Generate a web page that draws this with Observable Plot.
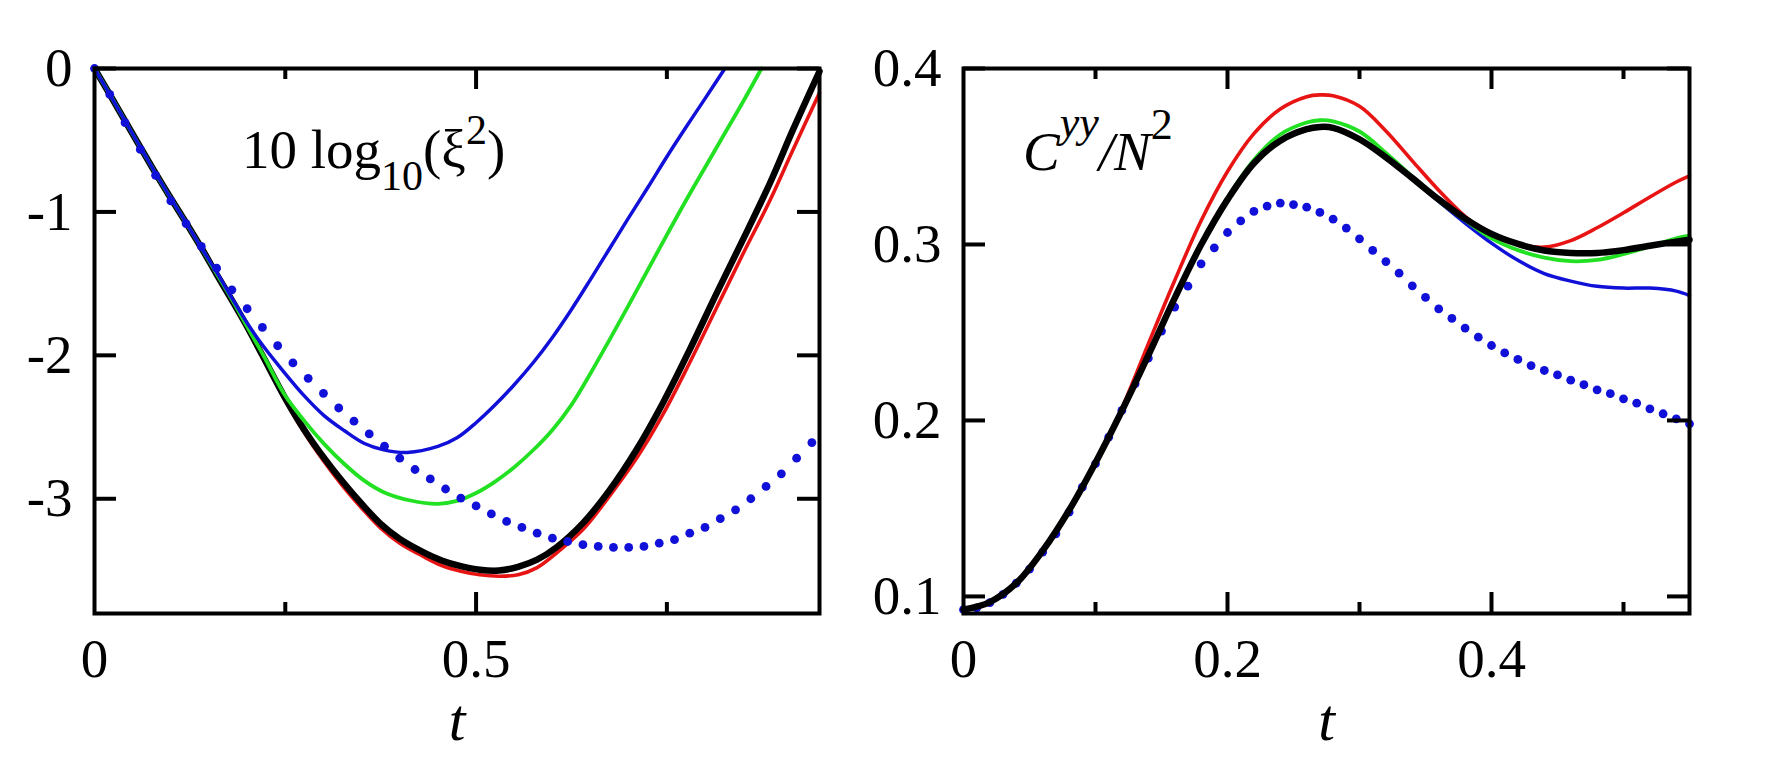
<!DOCTYPE html>
<html><head><meta charset="utf-8">
<script src="https://cdn.jsdelivr.net/npm/d3@7"></script>
<script src="https://cdn.jsdelivr.net/npm/@observablehq/plot@0.6"></script>
<style>
html,body{margin:0;padding:0;background:#fff;}
#wrap{display:flex;width:1780px;height:764px;overflow:hidden;background:#fff;}
svg{display:block;}
</style></head><body><div id="wrap"></div>
<script>
// ---------- LEFT PANEL: 10 log10(xi^2) vs t ----------
const leftXTickLabels = [0, 0.5];
const leftXMajor = [0.5];
const leftXMinor = [0.25, 0.75];
const leftYTicks = [0, -1, -2, -3];

const leftEarlyT = [0, 0.02, 0.04, 0.06, 0.08, 0.1, 0.12, 0.14];
const leftEarlyV = [0, -0.18, -0.365, -0.548, -0.73, -0.905, -1.075, -1.25];

const leftBlueT = [0.16, 0.18, 0.2, 0.2223, 0.2485, 0.2746, 0.3008, 0.327, 0.353, 0.379, 0.41, 0.45, 0.475, 0.5, 0.525, 0.55, 0.575, 0.6, 0.625, 0.65, 0.675, 0.7, 0.725, 0.75, 0.775, 0.8, 0.826];
const leftBlueV = [-1.42, -1.6, -1.775, -1.944, -2.118, -2.281, -2.42, -2.524, -2.613, -2.659, -2.677, -2.635, -2.575, -2.47, -2.345, -2.205, -2.05, -1.875, -1.68, -1.47, -1.255, -1.04, -0.83, -0.615, -0.41, -0.21, 0];

const leftGreenT = [0.16, 0.18, 0.2, 0.2223, 0.2485, 0.2746, 0.3008, 0.327, 0.353, 0.379, 0.414, 0.45, 0.475, 0.5, 0.525, 0.55, 0.575, 0.6, 0.625, 0.65, 0.675, 0.7, 0.725, 0.75, 0.775, 0.8, 0.825, 0.85, 0.874];
const leftGreenV = [-1.43, -1.61, -1.8, -2.01, -2.27, -2.455, -2.617, -2.756, -2.872, -2.954, -3.012, -3.035, -3.015, -2.96, -2.88, -2.78, -2.66, -2.52, -2.345, -2.125, -1.89, -1.65, -1.405, -1.16, -0.92, -0.69, -0.46, -0.23, 0];

const leftBlackT = [0.16, 0.18, 0.2, 0.22, 0.25, 0.275, 0.3, 0.325, 0.35, 0.375, 0.4, 0.43, 0.455, 0.48, 0.505, 0.53, 0.555, 0.58, 0.605, 0.64, 0.675, 0.71, 0.745, 0.78, 0.815, 0.85, 0.885, 0.915, 0.95];
const leftBlackV = [-1.435, -1.615, -1.8, -2.0, -2.3, -2.52, -2.71, -2.88, -3.035, -3.175, -3.28, -3.37, -3.43, -3.47, -3.495, -3.5, -3.475, -3.425, -3.34, -3.17, -2.94, -2.66, -2.33, -1.96, -1.57, -1.19, -0.8, -0.43, -0.02];

const leftRedT = [0.16, 0.18, 0.2, 0.22, 0.25, 0.275, 0.3, 0.325, 0.35, 0.375, 0.4, 0.43, 0.455, 0.48, 0.505, 0.53, 0.555, 0.58, 0.605, 0.64, 0.675, 0.71, 0.745, 0.78, 0.815, 0.85, 0.885, 0.915, 0.95];
const leftRedV = [-1.44, -1.62, -1.81, -2.01, -2.315, -2.54, -2.735, -2.91, -3.065, -3.205, -3.31, -3.4, -3.465, -3.505, -3.53, -3.54, -3.53, -3.48, -3.38, -3.215, -2.98, -2.72, -2.41, -2.05, -1.67, -1.29, -0.92, -0.57, -0.17];

const leftDotT = [0, 0.02, 0.04, 0.06, 0.08, 0.1, 0.12, 0.14, 0.16, 0.18, 0.2, 0.22, 0.24, 0.26, 0.28, 0.3, 0.32, 0.34, 0.36, 0.38, 0.4, 0.42, 0.44, 0.46, 0.48, 0.5, 0.52, 0.54, 0.56, 0.58, 0.6, 0.62, 0.64, 0.66, 0.68, 0.7, 0.72, 0.74, 0.76, 0.78, 0.8, 0.82, 0.84, 0.86, 0.88, 0.9, 0.92, 0.94];
const leftDotV = [0, -0.181, -0.378, -0.564, -0.745, -0.923, -1.081, -1.241, -1.392, -1.543, -1.675, -1.805, -1.933, -2.053, -2.16, -2.265, -2.367, -2.459, -2.548, -2.633, -2.717, -2.796, -2.862, -2.932, -2.995, -3.05, -3.106, -3.158, -3.2, -3.24, -3.275, -3.298, -3.32, -3.332, -3.339, -3.339, -3.332, -3.31, -3.285, -3.24, -3.2, -3.139, -3.077, -3.0, -2.914, -2.826, -2.717, -2.608];

// ---------- RIGHT PANEL: C^yy / N^2 vs t ----------
const rightXTickLabels = [0, 0.2, 0.4];
const rightXMajor = [0.2, 0.4];
const rightXMinor = [0.1, 0.3, 0.5];
const rightYTicks = [0.1, 0.2, 0.3, 0.4];

const rightEarlyT = [0, 0.02, 0.04, 0.06, 0.08, 0.1];
const rightEarlyV = [0.0925, 0.0968, 0.1075, 0.126, 0.149, 0.176];

const rightBlackT = [0.12, 0.14, 0.16, 0.18, 0.2, 0.22, 0.24, 0.26, 0.27, 0.28, 0.3, 0.32, 0.34, 0.36, 0.38, 0.4, 0.42, 0.44, 0.46, 0.48, 0.5, 0.52, 0.54, 0.55];
const rightBlackV = [0.2055, 0.237, 0.2695, 0.2998, 0.3255, 0.3462, 0.359, 0.3655, 0.3668, 0.3663, 0.3598, 0.3495, 0.3377, 0.3256, 0.3147, 0.306, 0.3003, 0.2966, 0.2952, 0.2952, 0.2968, 0.2993, 0.3016, 0.3027];

const rightRedT = [0.12, 0.14, 0.16, 0.18, 0.2, 0.22, 0.24, 0.26, 0.27, 0.28, 0.3, 0.32, 0.34, 0.36, 0.38, 0.4, 0.42, 0.44, 0.46, 0.48, 0.5, 0.52, 0.54, 0.55];
const rightRedV = [0.207, 0.2435, 0.2795, 0.3135, 0.3415, 0.363, 0.377, 0.384, 0.385, 0.3845, 0.3785, 0.3645, 0.3475, 0.3308, 0.316, 0.3055, 0.3003, 0.2985, 0.3022, 0.3095, 0.318, 0.327, 0.3355, 0.339];

const rightGreenT = [0.12, 0.14, 0.16, 0.18, 0.2, 0.22, 0.24, 0.26, 0.27, 0.28, 0.3, 0.32, 0.34, 0.36, 0.38, 0.4, 0.42, 0.44, 0.46, 0.48, 0.5, 0.52, 0.54, 0.55];
const rightGreenV = [0.2055, 0.237, 0.2695, 0.3002, 0.3265, 0.348, 0.3625, 0.3693, 0.3706, 0.37, 0.3642, 0.352, 0.3385, 0.3248, 0.3138, 0.3035, 0.2968, 0.2925, 0.2905, 0.2912, 0.2945, 0.2988, 0.3035, 0.305];

const rightBlueT = [0.12, 0.14, 0.16, 0.18, 0.2, 0.22, 0.24, 0.26, 0.27, 0.28, 0.3, 0.32, 0.34, 0.36, 0.38, 0.4, 0.42, 0.44, 0.46, 0.48, 0.5, 0.52, 0.54, 0.55];
const rightBlueV = [0.2055, 0.237, 0.2695, 0.2995, 0.3252, 0.3458, 0.3585, 0.365, 0.3663, 0.3658, 0.3594, 0.349, 0.337, 0.3245, 0.3122, 0.3008, 0.291, 0.2835, 0.2792, 0.2762, 0.2752, 0.2752, 0.2735, 0.271];

const rightDotT = [0, 0.01, 0.02, 0.03, 0.04, 0.05, 0.06, 0.07, 0.08, 0.09, 0.1, 0.11, 0.12, 0.13, 0.14, 0.15, 0.16, 0.17, 0.18, 0.19, 0.2, 0.21, 0.22, 0.23, 0.24, 0.25, 0.26, 0.27, 0.28, 0.29, 0.3, 0.31, 0.32, 0.33, 0.34, 0.35, 0.36, 0.37, 0.38, 0.39, 0.4, 0.41, 0.42, 0.43, 0.44, 0.45, 0.46, 0.47, 0.48, 0.49, 0.5, 0.51, 0.52, 0.53, 0.54, 0.55];
const rightDotV = [0.0925, 0.0935, 0.0965, 0.1012, 0.1075, 0.1155, 0.1252, 0.1356, 0.1479, 0.1621, 0.1754, 0.1905, 0.2057, 0.2208, 0.2354, 0.2508, 0.2644, 0.2763, 0.289, 0.2981, 0.3068, 0.3134, 0.3188, 0.3218, 0.3235, 0.3227, 0.3212, 0.3182, 0.3144, 0.3093, 0.3032, 0.2966, 0.2903, 0.2837, 0.2765, 0.2699, 0.2634, 0.258, 0.2525, 0.2473, 0.2426, 0.2384, 0.2347, 0.2312, 0.2284, 0.2259, 0.2229, 0.2203, 0.2174, 0.2152, 0.2123, 0.2098, 0.2066, 0.2038, 0.2009, 0.1981];

// ---------- helpers ----------
const RED = "#e81414", GREEN = "#22e022", BLUE = "#1010d8", BLACK = "#000";
const FONT = "'Liberation Serif','Times New Roman',serif";
const W = 890, H = 764, MT = 68, MB = 151;

function zipSeries(t, v) { return t.map((x, i) => ({t: x, v: v[i]})); }
function withEarly(et, ev, t, v) { return zipSeries(et.concat(t), ev.concat(v)); }

function panel(cfg) {
  const pw = W - cfg.ml - cfg.mr, ph = H - MT - MB;
  const lineMarks = cfg.lines.map(s => Plot.line(s.data, {
    x: "t", y: "v", stroke: s.color, strokeWidth: s.width,
    curve: "catmull-rom", strokeLinejoin: "round", strokeLinecap: "round"
  }));
  const dotMark = Plot.dot(cfg.dots, {x: "t", y: "v", r: 4.4, fill: BLUE, stroke: "none"});
  const dataMarks = cfg.dotsFirst ? [dotMark, ...lineMarks] : [...lineMarks, dotMark];
  return Plot.plot({
    width: W, height: H,
    marginLeft: cfg.ml, marginRight: cfg.mr, marginTop: MT, marginBottom: MB,
    x: {domain: cfg.xDomain},
    y: {domain: cfg.yDomain},
    style: {fontFamily: FONT, fontSize: "55px", color: "black", background: "white", overflow: "visible"},
    marks: [
      ...dataMarks,
      // inward ticks on all four sides
      Plot.tickY(cfg.yTicks, {y: d => d, insetRight: pw - 22, stroke: BLACK, strokeWidth: 4}),
      Plot.tickY(cfg.yTicks, {y: d => d, insetLeft: pw - 22, stroke: BLACK, strokeWidth: 4}),
      Plot.tickX(cfg.xMajor, {x: d => d, insetTop: ph - 21, stroke: BLACK, strokeWidth: 4}),
      Plot.tickX(cfg.xMajor, {x: d => d, insetBottom: ph - 21, stroke: BLACK, strokeWidth: 4}),
      Plot.tickX(cfg.xMinor, {x: d => d, insetTop: ph - 11, stroke: BLACK, strokeWidth: 4}),
      Plot.tickX(cfg.xMinor, {x: d => d, insetBottom: ph - 11, stroke: BLACK, strokeWidth: 4}),
      Plot.frame({stroke: BLACK, strokeWidth: 4}),
      Plot.axisY(cfg.yTicks, {anchor: "left", tickSize: 0, tickPadding: 22, tickFormat: d => String(d), fontSize: 55, label: null}),
      Plot.axisX(cfg.xLabels, {anchor: "bottom", tickSize: 0, tickPadding: 24, tickFormat: d => String(d), fontSize: 55, label: null}),
      Plot.text(["t"], {text: d => d, frameAnchor: "bottom", dy: 84, lineAnchor: "top", fontStyle: "italic", fontSize: 60})
    ]
  });
}

const leftSvg = panel({
  ml: 94, mr: 71, xDomain: [0, 0.95], yDomain: [-3.8, 0],
  xLabels: leftXTickLabels, xMajor: leftXMajor, xMinor: leftXMinor, yTicks: leftYTicks,
  dotsFirst: false,
  lines: [
    {data: withEarly(leftEarlyT, leftEarlyV, leftRedT, leftRedV), color: RED, width: 3.6},
    {data: withEarly(leftEarlyT, leftEarlyV, leftBlackT, leftBlackV), color: BLACK, width: 6.5},
    {data: withEarly(leftEarlyT, leftEarlyV, leftGreenT, leftGreenV), color: GREEN, width: 3.8},
    {data: withEarly(leftEarlyT, leftEarlyV, leftBlueT, leftBlueV), color: BLUE, width: 3.5}
  ],
  dots: zipSeries(leftDotT, leftDotV)
});

const rightSvg = panel({
  ml: 73, mr: 91, xDomain: [0, 0.55], yDomain: [0.0903, 0.4],
  xLabels: rightXTickLabels, xMajor: rightXMajor, xMinor: rightXMinor, yTicks: rightYTicks,
  dotsFirst: true,
  lines: [
    {data: withEarly(rightEarlyT, rightEarlyV, rightBlueT, rightBlueV), color: BLUE, width: 3.5},
    {data: withEarly(rightEarlyT, rightEarlyV, rightGreenT, rightGreenV), color: GREEN, width: 3.8},
    {data: withEarly(rightEarlyT, rightEarlyV, rightRedT, rightRedV), color: RED, width: 3.6},
    {data: withEarly(rightEarlyT, rightEarlyV, rightBlackT, rightBlackV), color: BLACK, width: 6.5}
  ],
  dots: zipSeries(rightDotT, rightDotV)
});

// panel titles with sub/superscripts
function addText(svg, x, y, parts) {
  const t = d3.select(svg).append("text")
    .attr("x", x).attr("y", y)
    .attr("text-anchor", "start")
    .attr("font-family", FONT).attr("font-size", 55).attr("fill", "black");
  parts.forEach(p => {
    const s = t.append("tspan").text(p.s);
    if (p.dy) s.attr("dy", p.dy);
    if (p.size) s.attr("font-size", p.size);
    if (p.italic) s.attr("font-style", "italic");
  });
}
addText(leftSvg, 242, 168, [
  {s: "10 log"},
  {s: "10", size: 42, dy: 22},
  {s: "(\u03BE", dy: -22},
  {s: "2", size: 42, dy: -24},
  {s: ")", dy: 24}
]);
addText(rightSvg, 133, 170, [
  {s: "C", italic: true},
  {s: "yy", italic: true, size: 44, dy: -33},
  {s: "/N", italic: true, dy: 33},
  {s: "2", size: 44, dy: -31}
]);

const wrap = document.getElementById("wrap");
wrap.appendChild(leftSvg);
wrap.appendChild(rightSvg);
</script></body></html>
